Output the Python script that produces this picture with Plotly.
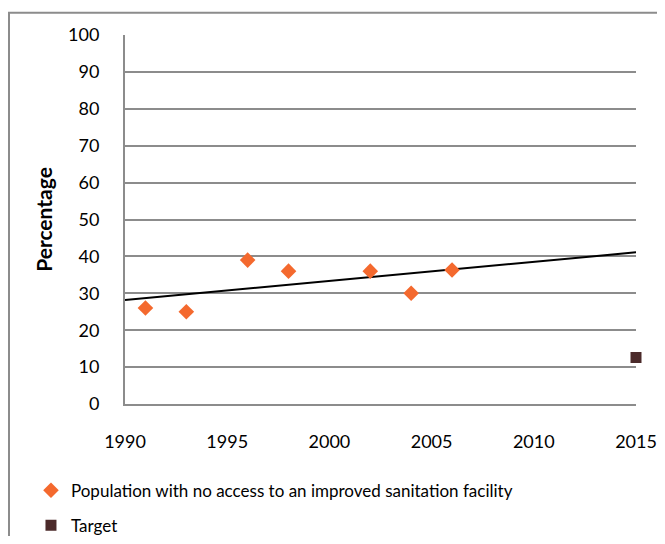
import numpy as np
import plotly.graph_objects as go

years = [1991, 1993, 1996, 1998, 2002, 2004, 2006]
no_access = [26, 25, 39, 36, 36, 30, 36.3]
target_year = [2015]
target_value = [12.6]

# linear trend line over the observed points, drawn across the full axis
slope, intercept = np.polyfit(years, no_access, 1)
trend_x = [1990, 2015]
trend_y = [slope * x + intercept for x in trend_x]

font = "Lato, Carlito, 'Open Sans', sans-serif"

fig = go.Figure()
fig.add_trace(go.Scatter(x=trend_x, y=trend_y, mode="lines",
                         line=dict(color="black", width=2), showlegend=False,
                         hoverinfo="skip"))
fig.add_trace(go.Scatter(x=years, y=no_access, mode="markers", legendgroup="a",
                         name="Population with no access to an improved sanitation facility",
                         marker=dict(symbol="diamond", size=12, color="#F4692E")))
fig.add_trace(go.Scatter(x=target_year, y=target_value, mode="markers", name="Target",
                         legendgroup="b",
                         marker=dict(symbol="square", size=11, color="#4B2A2A"),
                         cliponaxis=False))

# page body has an 8px margin on every side, so the figure is sized to fit inside it
fig.update_layout(
    width=657, height=528,
    margin=dict(l=117, r=29, t=27, b=132, autoexpand=False),
    paper_bgcolor="white", plot_bgcolor="white",
    font=dict(family=font, size=18, color="black"),
    xaxis=dict(range=[1990, 2015], tick0=1990, dtick=5, showgrid=False,
               zeroline=False, showline=True, linecolor="#8C8C8C", linewidth=2,
               ticks="", ticklabelstandoff=20),
    yaxis=dict(range=[0, 100], dtick=10, showgrid=True, gridcolor="#8C8C8C",
               gridwidth=2, zeroline=False, showline=True, linecolor="#8C8C8C",
               linewidth=2, ticks="", ticklabelstandoff=20,
               title=dict(text="<b>Percentage</b>", font=dict(size=21), standoff=10)),
    legend=dict(x=-0.184, y=-0.186, xanchor="left", yanchor="top",
                font=dict(size=17), traceorder="grouped", tracegroupgap=10,
                itemwidth=30, bgcolor="rgba(0,0,0,0)"),
    shapes=[dict(type="rect", xref="paper", yref="paper",
                 x0=-0.227, x1=1.3, y0=-0.7, y1=1.06,
                 line=dict(color="#8C8C8C", width=2), layer="below")],
)

fig.write_html("out.html")
